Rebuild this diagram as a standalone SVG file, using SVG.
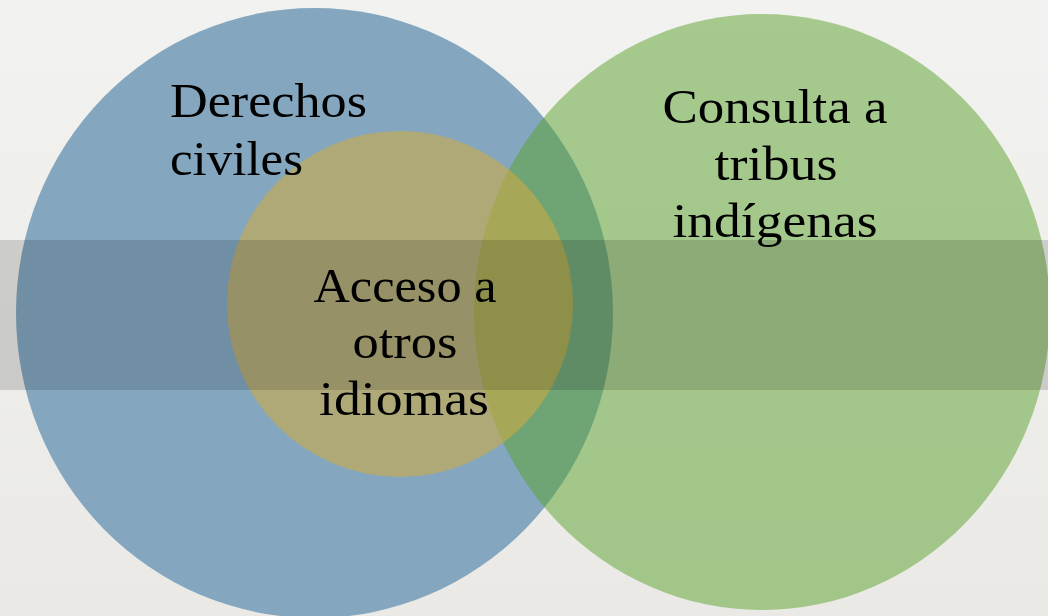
<svg xmlns="http://www.w3.org/2000/svg" width="1048" height="616" viewBox="0 0 1048 616">
  <defs>
    <linearGradient id="bg" x1="0" y1="0" x2="0" y2="1">
      <stop offset="0" stop-color="#f2f2f0"/>
      <stop offset="1" stop-color="#eae9e5"/>
    </linearGradient>
    <style>
      .lbl { font-family: "Liberation Serif", "DejaVu Serif", serif; font-size: 48px; fill: #000000; }
      .mid { text-anchor: middle; }
    </style>
  </defs>
  <rect x="0" y="0" width="1048" height="616" fill="url(#bg)"/>
  <g id="derechos-civiles">
    <ellipse cx="314.5" cy="313" rx="298.5" ry="305" fill="#84a7bf"/>
  </g>
  <g id="consulta-tribus">
    <ellipse cx="762" cy="312" rx="288" ry="298" fill="#59a22c" fill-opacity="0.5"/>
  </g>
  <g id="acceso-idiomas">
    <circle cx="400" cy="304" r="173" fill="#d4ab3e" fill-opacity="0.55"/>
  </g>
  <rect id="band" x="0" y="240" width="1048" height="150" fill="#000000" fill-opacity="0.14"/>
  <g id="connectors"></g>
  <g id="labels">
    <text class="lbl" x="170" y="117" textLength="197" lengthAdjust="spacingAndGlyphs">Derechos</text>
    <text class="lbl" x="170" y="175" textLength="133" lengthAdjust="spacingAndGlyphs">civiles</text>
    <text class="lbl mid" x="775" y="123" textLength="225" lengthAdjust="spacingAndGlyphs">Consulta a</text>
    <text class="lbl mid" x="776" y="180" textLength="123" lengthAdjust="spacingAndGlyphs">tribus</text>
    <text class="lbl mid" x="775" y="237" textLength="205" lengthAdjust="spacingAndGlyphs">indígenas</text>
    <text class="lbl mid" x="405" y="302" textLength="183" lengthAdjust="spacingAndGlyphs">Acceso a</text>
    <text class="lbl mid" x="405" y="358" textLength="105" lengthAdjust="spacingAndGlyphs">otros</text>
    <text class="lbl mid" x="404" y="415" textLength="170" lengthAdjust="spacingAndGlyphs">idiomas</text>
  </g>
</svg>
